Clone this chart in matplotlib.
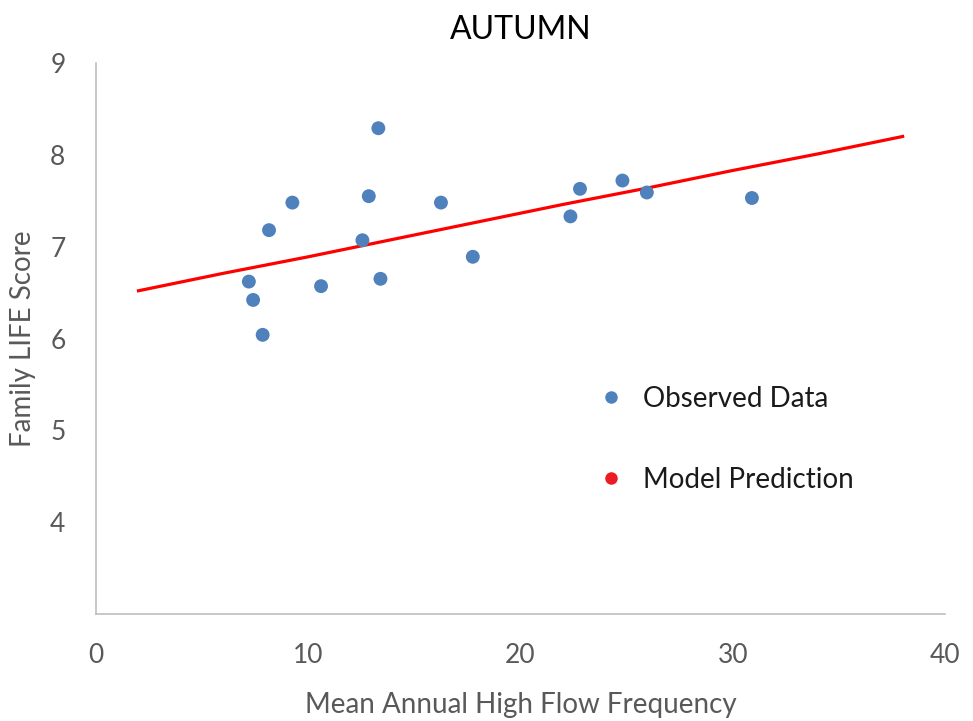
import matplotlib
matplotlib.use("Agg")
import matplotlib.pyplot as plt
from matplotlib.lines import Line2D

plt.rcParams['font.family'] = ['Lato', 'DejaVu Sans']

# Observed sites: mean annual high flow frequency vs family LIFE score
flow_obs = [7.2, 7.4, 7.85, 8.15, 9.25, 10.6, 12.55, 12.85, 13.3, 13.4,
            16.25, 17.75, 22.35, 22.8, 24.8, 25.95, 30.9]
life_obs = [6.62, 6.42, 6.04, 7.18, 7.48, 6.57, 7.07, 7.55, 8.29, 6.65,
            7.48, 6.89, 7.33, 7.63, 7.72, 7.59, 7.53]

# Model prediction curve
flow_model = [2, 6, 10, 14, 18, 22, 26, 30, 34, 38]
life_model = [6.52, 6.71, 6.89, 7.08, 7.27, 7.46, 7.64, 7.83, 8.01, 8.20]

x_ticks = [0, 10, 20, 30, 40]
y_ticks = [4, 5, 6, 7, 8, 9]

fig = plt.figure(figsize=(9.73, 7.21), dpi=100)
ax = fig.add_axes([0.0987, 0.1484, 0.8726, 0.7642])

ax.plot(flow_model, life_model, color='#FF0000', lw=2.3, zorder=2)
ax.scatter(flow_obs, life_obs, s=100, color='#4F81BD', edgecolors='none', zorder=3)

ax.set_xlim(0, 40)
ax.set_ylim(3, 9)
ax.set_xticks(x_ticks)
ax.set_yticks(y_ticks)
ax.tick_params(length=0, labelsize=19, colors='#595959')
ax.tick_params(axis='x', pad=21)
ax.tick_params(axis='y', pad=22)

for side in ('top', 'right'):
    ax.spines[side].set_visible(False)
for side in ('left', 'bottom'):
    ax.spines[side].set_color('#BFBFBF')
    ax.spines[side].set_linewidth(1.2)

ax.set_xlabel('Mean Annual High Flow Frequency', fontsize=20, color='#595959', labelpad=17)
ax.set_ylabel('Family LIFE Score', fontsize=20, color='#595959', labelpad=10)
ax.set_title('AUTUMN', fontsize=23, color='#000000', pad=17)

handles = [
    Line2D([], [], ls='none', marker='o', ms=9, color='#4F81BD', mec='none', label='Observed Data'),
    Line2D([], [], ls='none', marker='o', ms=9, color='#ED1C24', mec='none', label='Model Prediction'),
]
ax.legend(handles=handles, loc='center left', bbox_to_anchor=(0.59, 0.3176),
          frameon=False, fontsize=20, labelspacing=1.98, handlelength=1.0,
          handletextpad=0.65, borderpad=0, borderaxespad=0,
          labelcolor='#1A1A1A')

fig.savefig('out.png', dpi=100)
